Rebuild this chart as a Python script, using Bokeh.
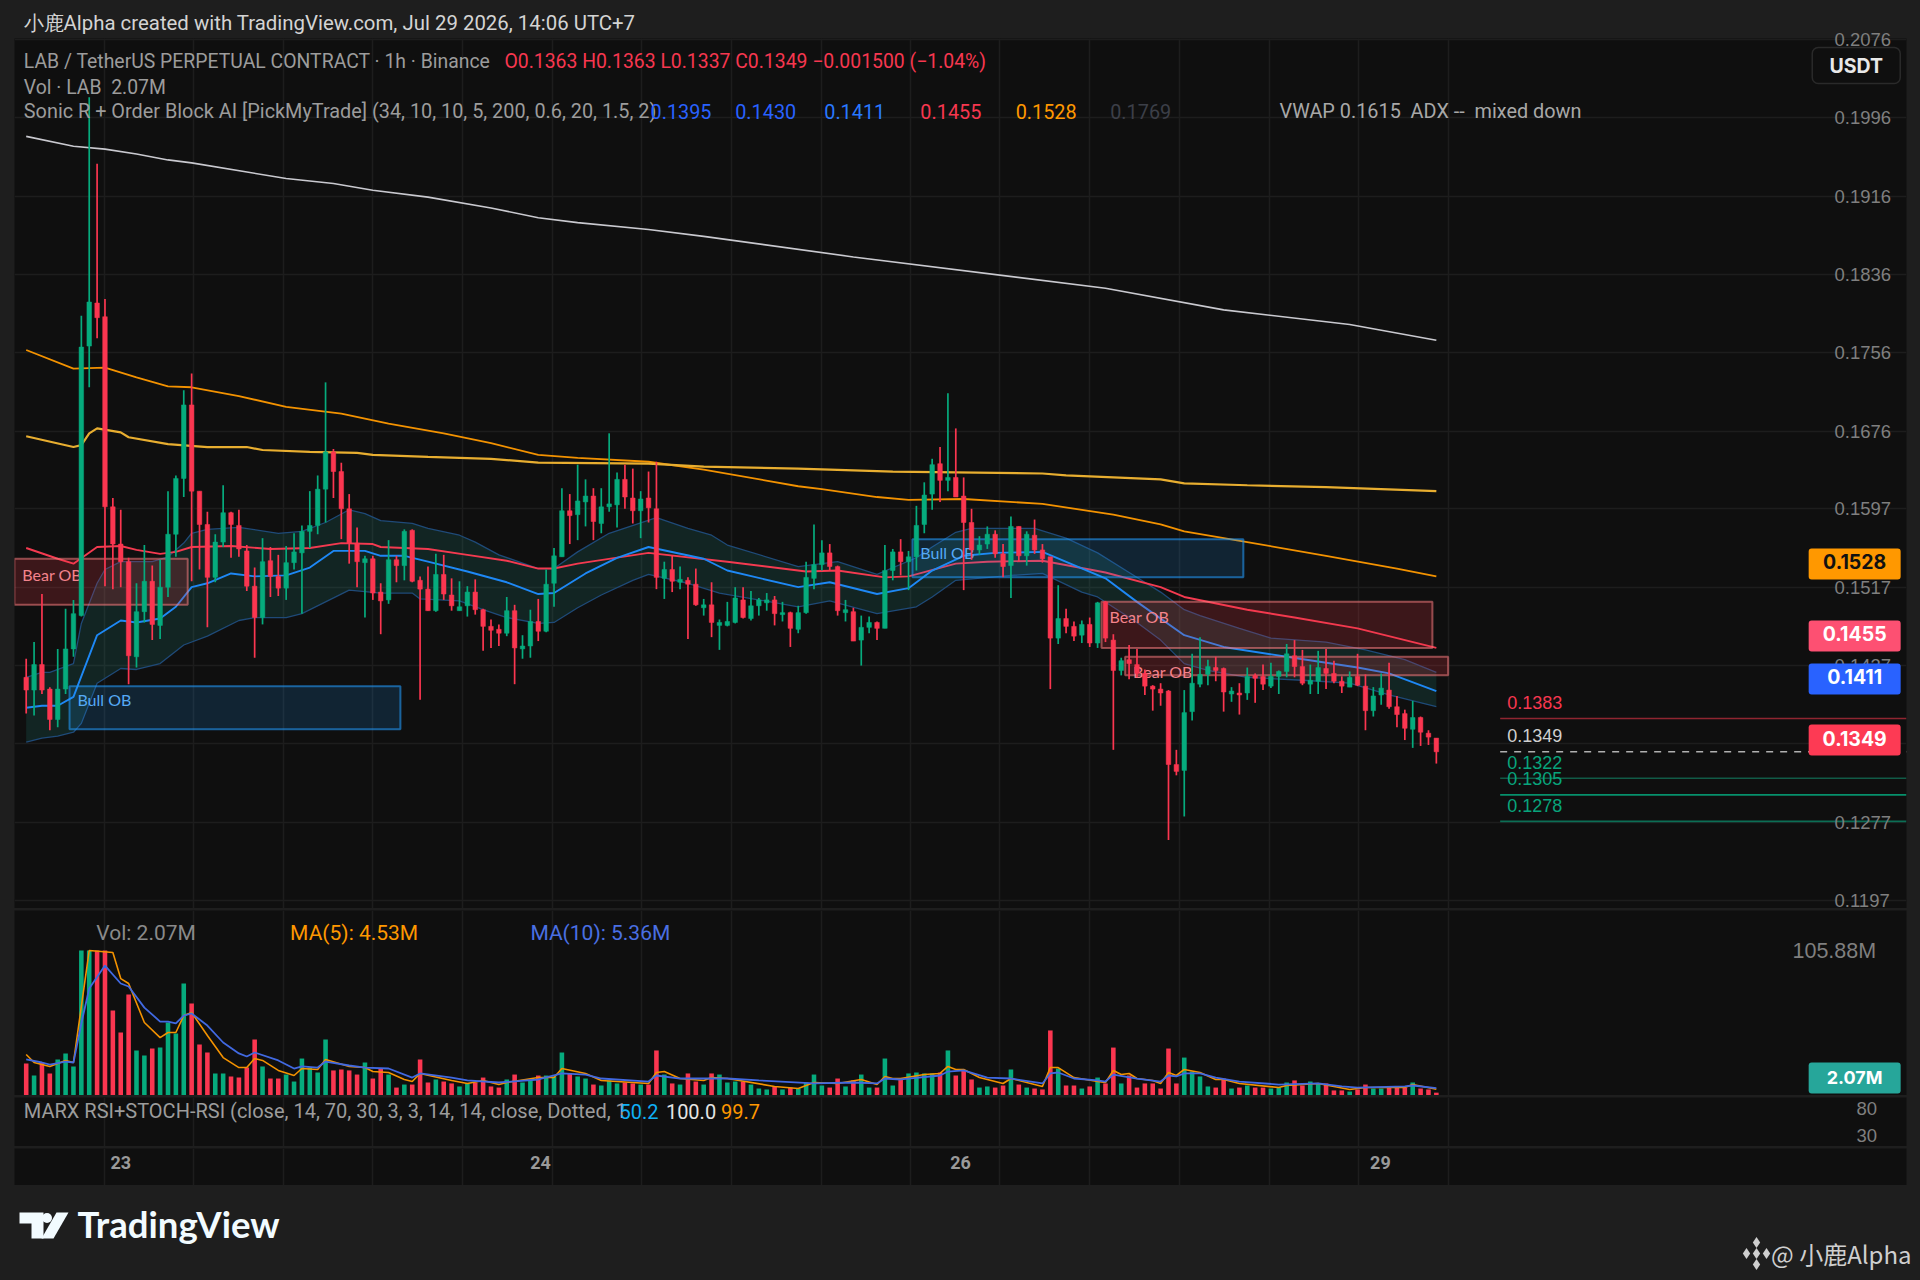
import numpy as np
from bokeh.plotting import figure
from bokeh.layouts import column
from bokeh.models import (Range1d, LinearAxis, FixedTicker, Grid, Label, ColumnDataSource,
                          NumeralTickFormatter, Title)
from bokeh.core.properties import value
from bokeh.embed import file_html
from bokeh.resources import INLINE

# ---- chart values, prices in units of 0.0001 USDT, volumes in millions ----
open_ = [1425,1412,1438,1413,1382,1413,1454,1488,1763,1807,
1793,1599,1561,1543,1446,1492,1523,1478,1517,1571,
1628,1703,1615,1581,1527,1563,1593,1580,1554,1518,
1486,1544,1528,1516,1542,1552,1574,1580,1617,1655,
1635,1597,1562,1542,1546,1512,1504,1545,1539,1575,
1524,1515,1493,1530,1509,1493,1498,1512,1494,1477,
1474,1470,1493,1454,1457,1482,1472,1521,1548,1595,
1591,1604,1610,1582,1599,1601,1627,1608,1595,1608,
1597,1526,1535,1522,1524,1520,1496,1499,1478,1478,
1481,1504,1485,1498,1501,1504,1489,1491,1474,1491,
1526,1540,1552,1538,1491,1492,1463,1476,1481,1475,
1534,1553,1543,1548,1581,1612,1643,1626,1629,1610,
1583,1555,1561,1571,1551,1539,1579,1549,1570,1555,
1548,1465,1485,1477,1468,1479,1460,1502,1463,1432,
1443,1438,1429,1416,1413,1411,1336,1330,1390,1418,
1428,1435,1434,1408,1409,1409,1427,1426,1416,1426,
1431,1447,1436,1418,1421,1434,1429,1421,1415,1426,
1416,1391,1407,1412,1395,1388,1372,1384,1368,1363]
high = [1444,1461,1510,1415,1454,1495,1504,1794,2017,1949,
1811,1608,1596,1547,1521,1560,1539,1545,1615,1631,
1718,1735,1615,1594,1571,1621,1594,1596,1560,1537,
1567,1558,1550,1559,1572,1580,1615,1631,1726,1658,
1644,1612,1578,1549,1549,1521,1565,1549,1576,1576,
1528,1538,1551,1550,1526,1523,1518,1525,1495,1484,
1479,1507,1499,1468,1494,1505,1535,1557,1618,1612,
1642,1627,1618,1618,1674,1634,1642,1638,1615,1635,
1645,1543,1549,1538,1527,1536,1505,1522,1484,1502,
1517,1517,1513,1506,1511,1508,1502,1492,1498,1543,
1581,1565,1561,1539,1504,1496,1488,1487,1482,1560,
1556,1566,1554,1600,1624,1648,1660,1715,1679,1629,
1597,1569,1579,1575,1561,1589,1579,1574,1586,1561,
1548,1519,1495,1482,1483,1486,1502,1503,1469,1445,
1458,1454,1433,1417,1419,1412,1351,1412,1449,1466,
1443,1446,1435,1415,1419,1435,1429,1438,1440,1432,
1459,1463,1453,1438,1452,1454,1442,1426,1431,1449,
1428,1415,1429,1440,1406,1392,1401,1385,1371,1363]
low = [1388,1386,1408,1371,1374,1408,1446,1487,1721,1771,
1518,1515,1517,1418,1435,1481,1463,1464,1507,1548,
1609,1523,1535,1476,1522,1558,1547,1548,1513,1445,
1479,1507,1508,1504,1535,1490,1557,1571,1583,1608,
1566,1541,1517,1486,1504,1469,1500,1522,1524,1522,
1402,1493,1492,1504,1493,1493,1487,1489,1452,1455,
1457,1467,1418,1444,1445,1462,1471,1497,1548,1561,
1565,1579,1565,1572,1594,1578,1597,1582,1567,1583,
1515,1505,1512,1515,1464,1498,1488,1466,1453,1477,
1480,1485,1483,1488,1493,1478,1482,1456,1470,1490,
1515,1534,1534,1488,1482,1462,1437,1470,1463,1475,
1524,1529,1514,1534,1572,1596,1604,1615,1609,1514,
1545,1550,1556,1547,1527,1506,1543,1539,1551,1542,
1413,1459,1470,1462,1460,1456,1455,1461,1351,1427,
1423,1425,1407,1391,1396,1259,1325,1283,1381,1415,
1417,1421,1390,1400,1387,1402,1399,1412,1414,1408,
1425,1425,1417,1408,1408,1413,1419,1409,1415,1416,
1371,1385,1397,1393,1374,1361,1353,1355,1356,1337]
close = [1412,1438,1412,1382,1413,1454,1490,1762,1808,1792,
1599,1561,1543,1447,1492,1523,1479,1517,1571,1628,
1703,1615,1581,1527,1563,1593,1581,1556,1518,1486,
1543,1528,1516,1542,1553,1574,1580,1617,1655,1635,
1597,1562,1543,1546,1511,1503,1545,1539,1574,1523,
1515,1493,1530,1510,1498,1497,1512,1494,1477,1473,
1470,1493,1455,1457,1482,1472,1520,1549,1595,1590,
1605,1610,1584,1599,1602,1627,1609,1595,1607,1598,
1527,1535,1523,1525,1520,1499,1499,1481,1481,1482,
1506,1486,1498,1504,1504,1490,1491,1475,1491,1527,
1540,1552,1538,1493,1494,1462,1476,1481,1475,1534,
1553,1543,1548,1580,1611,1642,1626,1629,1609,1583,
1555,1560,1571,1551,1538,1579,1549,1571,1555,1546,
1465,1485,1477,1467,1479,1460,1501,1465,1432,1442,
1439,1429,1416,1413,1409,1336,1329,1389,1419,1428,
1436,1432,1410,1411,1407,1426,1424,1418,1426,1431,
1449,1436,1419,1422,1435,1429,1421,1416,1425,1417,
1391,1406,1414,1395,1387,1373,1384,1369,1364,1349]
volume = [23.4,14.6,24.1,16.1,26.3,30.7,21.2,105.88,105.88,105.88,
105.88,62.1,46,73.7,32.9,29.2,34.3,35,53.3,45.3,
81.8,67.2,37.2,31.4,16.1,16.1,13.9,13.1,20.4,40.9,
21.2,12.4,12.4,15.3,10.2,27,20.4,16.8,40.9,18.3,
19,18.3,15.3,24.1,12.4,19.7,15.3,5.8,8,8,
26.3,9.5,11.7,10.2,8.8,6.6,8.8,9.5,13.1,6.6,
5.8,11.7,15.3,9.5,11,14.6,14.6,13.9,31.4,16.1,
13.9,12.4,8,7.3,11,8.8,9.5,8.8,8,8,
32.9,15.3,8.8,8,16.1,10.2,8,16.1,15.3,9.5,
10.2,10.2,8,5.1,4.4,6.6,4.4,5.8,5.1,9.5,
15.3,7.3,5.8,12.4,6.6,11,15.3,5.8,5.8,27,
7.3,11.7,16.1,16.8,16.1,16.1,16.8,32.9,14.6,18.3,
11.7,5.8,6.6,5.8,7.3,19,8,5.8,5.1,4.4,
47.5,19.7,7.3,7.3,5.1,6.6,13.1,8.8,35,8.8,
14.6,5.8,8.8,8.8,5.1,34.3,8.8,27.7,17.5,13.9,
6.6,5.8,12.4,5.1,5.8,7.3,5.8,5.8,5.1,5.8,
9.5,11,7.3,10.2,8.8,8.8,3.7,3.7,2.9,4.4,
8,5.1,5.1,5.8,5.8,5.8,9.5,5.1,4.4,2.07]

white_i = [0,6,10,14,18,21,33,39,44,51,59,65,70,79,86,105,137,152,168,179]
white_p = [1977,1967,1964,1959,1953,1950,1934,1929,1922,1915,1904,1894,1889,1882,1875,1854,1822,1800,1785,1769]
orange_i = [0,6,10,14,18,21,27,33,40,46,53,59,65,70,79,86,98,101,108,112,119,129,138,144,147,155,165,174,179]
orange_p = [1759,1740,1741,1731,1722,1721,1712,1701,1694,1684,1674,1664,1652,1649,1645,1637,1620,1617,1609,1606,1607,1602,1591,1581,1574,1563,1549,1536,1528]
yellow_i = [0,6,7,8,9,12,13,18,23,28,30,36,42,44,51,59,65,79,86,98,110,129,132,138,144,147,155,165,179]
yellow_p = [1671,1660,1662,1674,1679,1675,1670,1663,1660,1660,1657,1655,1654,1652,1650,1648,1644,1643,1640,1638,1635,1633,1631,1629,1627,1623,1621,1619,1615]
red_i = [0,4,6,9,12,14,17,19,21,26,31,36,40,44,45,51,56,61,65,67,70,79,89,99,103,109,112,118,122,129,135,137,144,147,155,161,169,179]
red_p = [1557,1546,1541,1558,1559,1555,1551,1553,1558,1559,1556,1557,1562,1561,1558,1556,1550,1544,1536,1536,1541,1552,1543,1533,1534,1527,1528,1541,1543,1544,1535,1532,1517,1507,1494,1486,1475,1455]
blue_i = [0,2,4,6,9,12,14,17,19,21,23,26,29,33,36,39,43,45,48,51,56,61,65,67,71,75,79,86,89,98,102,108,112,115,119,123,129,137,141,147,152,160,169,173,179]
blue_p = [1394,1396,1396,1405,1468,1483,1481,1485,1497,1517,1521,1531,1528,1529,1537,1554,1554,1549,1549,1543,1533,1522,1510,1511,1531,1547,1558,1546,1534,1517,1522,1510,1516,1534,1549,1552,1553,1526,1502,1468,1456,1446,1435,1429,1411]
upper_i = [0,2,3,6,7,9,10,12,16,18,20,21,23,27,32,35,38,41,43,45,49,51,55,57,60,65,67,70,74,80,84,87,89,98,103,108,113,115,118,120,128,132,136,140,144,147,149,154,158,165,170,175,179]
upper_p = [1425,1430,1430,1439,1480,1521,1535,1543,1543,1548,1562,1572,1576,1578,1572,1574,1583,1596,1592,1585,1582,1577,1570,1563,1550,1536,1536,1553,1572,1588,1577,1570,1560,1538,1543,1530,1547,1558,1573,1577,1577,1567,1552,1532,1512,1494,1488,1475,1465,1461,1453,1443,1430]
lower_i = [0,2,4,6,7,9,12,14,17,20,23,27,29,33,35,38,41,45,49,50,55,58,61,65,67,70,73,77,79,84,88,98,102,108,113,115,118,125,129,134,136,141,144,147,150,155,162,168,173,179]
lower_p = [1359,1363,1365,1369,1378,1419,1434,1433,1439,1458,1467,1483,1486,1486,1490,1502,1514,1511,1511,1505,1503,1494,1486,1480,1481,1496,1509,1524,1530,1521,1511,1497,1503,1490,1497,1507,1524,1529,1531,1512,1507,1481,1463,1439,1432,1425,1422,1419,1407,1395]

ma5_i = [0,1,3,5,6,8,11,12,13,15,17,18,19,20,21,23,25,27,28,29,30,32,34,35,37,38,41,43,44,46,48,49,50,54,56,58,60,61,65,67,68,71,73,79,80,81,83,86,87,89,95,98,100,103,106,108,109,110,111,114,116,117,118,119,121,124,125,129,130,131,133,136,137,138,139,140,141,143,144,145,146,147,149,151,152,154,159,160,164,166,168,170,175,176,179]
ma5_v = [29.9,24.1,21.2,25.6,24.1,105.88,104.4,85.4,81.8,53.3,42.3,46,46,58.4,60.6,43.8,27.7,20.4,20.4,27,25.6,18.3,14.6,19.7,19,26.3,21.2,20.4,17.5,16.8,11.7,10.2,16.1,11,8.8,11,8,9.5,13.1,13.1,19.7,16.1,11,8.8,16.8,17.5,12.4,11,13.1,12.4,6.6,5.1,9.5,8.8,11.7,8,13.9,12.4,12.4,15.3,16.1,21.2,19,19,13.1,8.8,12.4,6.6,20.4,20.4,13.1,10.2,9.5,18.3,15.3,16.1,12.4,11,8.8,16.8,14.6,19,16.8,11.7,11.7,8.8,5.8,7.3,8.8,6.6,4.4,5.8,5.8,8,4.53]
ma10_i = [0,2,3,5,6,7,8,10,12,13,15,17,18,19,20,21,23,25,27,28,29,32,34,35,37,38,41,43,46,49,50,54,56,60,65,68,71,73,79,80,83,89,93,100,105,108,109,111,116,117,119,122,125,129,130,131,133,136,137,138,141,144,145,146,147,149,151,154,159,164,167,169,175,176,179]
ma10_v = [26.3,24.1,22.6,24.8,24.1,52.6,78.1,94.9,81.8,79.6,64.2,54,54,52.6,58.4,59.9,51.1,38.7,30.7,28.5,31.4,25.6,19.7,21.2,20.4,24.8,21.9,20.4,19.7,13.1,16.1,13.1,11,9.5,11.7,16.1,15.3,12.4,10.2,14.6,12.4,12.4,11,8.8,9.5,8.8,12.4,11.7,14.6,17.5,18.3,13.1,12.4,8.8,16.1,16.8,12.4,11,10.2,15.3,12.4,10.2,14.6,13.9,16.1,16.1,13.1,10.2,8,8.8,6.6,5.8,6.6,7.3,5.36]

ob_kind = ["Bear OB", "Bull OB", "Bull OB", "Bear OB", "Bear OB"]
ob_left = [-1.5, 5.5, 112.5, 136.5, 139.5]
ob_right = [20.5, 47.5, 154.5, 178.5, 180.5]
ob_top = [1546, 1416, 1566, 1502, 1446]
ob_bottom = [1499, 1372, 1527, 1455, 1427]
ob_label_p = [1529, 1401, 1551, 1486, 1430]

price_ticks = [0.2076,0.1996,0.1916,0.1836,0.1756,0.1676,0.1597,0.1517,0.1437,0.1277,0.1197]
price_grid = [0.2076,0.1996,0.1916,0.1836,0.1756,0.1676,0.1597,0.1517,0.1437,0.1357,0.1277,0.1197]
day_ticks = [12, 65.3, 118.6, 171.9]
day_labels = ["23", "24", "26", "29"]
grid_ticks = [9.9,21.3,32.6,44.0,55.4,66.8,78.1,89.5,100.9,112.3,123.6,135.0,146.4,157.8,169.1,180.5]
level_p = [1383, 1349, 1322, 1305, 1278]
level_col = ["#8f2530", "#b0b0b0", "#115b47", "#06906b", "#0c6e55"]
level_txt = ["#f7374f", "#d0d0d0", "#08a47c", "#08a47c", "#08a47c"]

UP, DOWN = "#06ab7d", "#fb3650"
BG, CHROME, GRID, AXT = "#0f0f0f", "#1e1e1e", "#1d1d1d", "#7f7f7f"
SANS, NUM = "Roboto", "Liberation Sans"

xr = Range1d(-1.485, 238.68)
n = len(open_)
idx = np.arange(n)
O, H, L, C = [np.array(a) / 1e4 for a in (open_, high, low, close)]
cols = [UP if c >= o else DOWN for o, c in zip(O, C)]
src = ColumnDataSource(dict(x=idx, o=O, h=H, l=L, c=C, v=volume, col=cols))


def panel(h, top, lo, hi):
    p = figure(width=1920, height=h, x_range=xr, y_range=Range1d(lo, hi), output_backend="svg",
               toolbar_location=None, min_border_left=14, min_border_right=14, min_border_top=top,
               min_border_bottom=0, background_fill_color=BG, border_fill_color=None,
               outline_line_color=None, x_axis_location=None, y_axis_location=None)
    p.grid.visible = False
    p.add_layout(Grid(dimension=0, ticker=FixedTicker(ticks=grid_ticks), grid_line_color=GRID, grid_line_width=1.5))
    return p


def yaxis(p, ticks, standoff, size, fmt=None, overrides=None):
    ax = LinearAxis(ticker=FixedTicker(ticks=ticks), major_label_standoff=standoff,
                    axis_line_color=None, major_tick_line_color=None, minor_tick_line_color=None,
                    major_label_text_color=AXT, major_label_text_font=NUM,
                    major_label_text_font_size=size)
    if fmt:
        ax.formatter = fmt
    if overrides:
        ax.major_label_overrides = overrides
    p.add_layout(ax, "right")


def note(p, x, y, text, color, size="19.4px", style="normal", font=SANS, align="left"):
    p.add_layout(Label(x=x, y=y, text=text, text_color=color, text_font=font, text_font_size=size,
                       text_font_style=style, text_baseline="middle", text_align=align))


# ---------------- price panel ----------------
price = panel(908, 38, 0.11891, 0.20769)
price.add_layout(Grid(dimension=1, ticker=FixedTicker(ticks=price_grid), grid_line_color=GRID, grid_line_width=1.5))
yaxis(price, price_ticks, -78, "18.5px", NumeralTickFormatter(format="0.0000"))
price.add_layout(Title(text="小鹿Alpha created with TradingView.com, Jul 29 2026, 14:06 UTC+7", text_color="#d4d4d4",
                       text_font=SANS, text_font_size="20.4px", text_font_style="normal", align="left",
                       offset=9, standoff=7), "above")

price.patch(upper_i + lower_i[::-1], [v / 1e4 for v in upper_p + lower_p[::-1]],
            fill_color="#26a69a", fill_alpha=0.15, line_color=None)
price.line(upper_i, [v / 1e4 for v in upper_p], line_color="#1f4a78", line_width=1.3)
price.line(lower_i, [v / 1e4 for v in lower_p], line_color="#1f4a78", line_width=1.3)
price.line(white_i, [v / 1e4 for v in white_p], line_color="#c9c9cf", line_width=1.6)
price.line(orange_i, [v / 1e4 for v in orange_p], line_color="#f39200", line_width=1.8)
price.line(yellow_i, [v / 1e4 for v in yellow_p], line_color="#e8ae30", line_width=2.2)
price.line(red_i, [v / 1e4 for v in red_p], line_color="#f43a50", line_width=1.9)
price.line(blue_i, [v / 1e4 for v in blue_p], line_color="#1e88f5", line_width=1.9)

for kind, l, r, t, b, lp in zip(ob_kind, ob_left, ob_right, ob_top, ob_bottom, ob_label_p):
    bear = kind.startswith("Bear")
    price.quad(left=l, right=r, top=t / 1e4, bottom=b / 1e4,
               fill_color="#f23645" if bear else "#2196f3", fill_alpha=0.2 if bear else 0.16,
               line_color="#f77c80" if bear else "#2196f3", line_alpha=0.55 if bear else 0.6, line_width=2)
    price.text(x=l + 1.0, y=lp / 1e4, text=[kind], text_color="#f4838c" if bear else "#55a9f5", y_offset=-1,
               text_font=value("Lato"), text_font_size="16px", text_baseline="middle")

price.segment(x0="x", x1="x", y0="l", y1="h", color="col", line_width=1.7, source=src)
price.vbar(x="x", width=0.58, top="o", bottom="c", fill_color="col", line_color="col", line_width=0.5, source=src)

for lv, lc, tc in zip(level_p, level_col, level_txt):
    price.segment(x0=[187.1], x1=[238.68], y0=[lv / 1e4], y1=[lv / 1e4], line_color=lc, line_width=1.6,
                  line_dash="7 7" if lv == 1349 else "solid")
    price.text(x=[188.0], y=[lv / 1e4], text=[f"{lv / 1e4:.4f}"], text_color=tc, y_offset=-16,
               text_font=value(NUM), text_font_size="18px", text_baseline="middle")

tag_val = ["0.1528", "0.1455", "0.1411", "0.1349"]
tag_centre = [0.15407, 0.14672, 0.14233, 0.1361]
tag_fill = ["#ff9800", "#fd5072", "#2962ff", "#fd3a54"]
tag_text = ["#111111", "#ffffff", "#ffffff", "#ffffff"]
price.rect(x=[232.1] * 4, y=tag_centre, width=92, height=31, width_units="screen", height_units="screen",
           fill_color=tag_fill, line_color=None, level="overlay", border_radius=3)
price.text(x=[232.1] * 4, y=tag_centre, text=tag_val, text_color=tag_text, y_offset=-2, text_align="center",
           text_baseline="middle", text_font=value("Inter"), text_font_style="bold", text_font_size="19.5px", level="overlay")
price.rect(x=[232.3], y=[0.20493], width=88, height=36, width_units="screen", height_units="screen",
           fill_color=BG, line_color="#2a2a2a", line_width=1.5, level="overlay", border_radius=6)
price.text(x=[232.3], y=[0.20493], text=["USDT"], text_color="#e8e8e8", text_align="center", text_baseline="middle",
           text_font=value("Inter"), text_font_style="bold", text_font_size="19.5px", level="overlay")

note(price, -0.3, 0.20534, "LAB / TetherUS PERPETUAL CONTRACT · 1h · Binance", "#9c9c9c")
note(price, 60.7, 0.20534, "O0.1363 H0.1363 L0.1337 C0.1349 −0.001500 (−1.04%)", "#f7374f")
note(price, -0.3, 0.20269, "Vol · LAB\u00a0 2.07M", "#9c9c9c")
note(price, -0.3, 0.20024, "Sonic R + Order Block AI [PickMyTrade] (34, 10, 10, 5, 200, 0.6, 20, 1.5, 2)", "#9c9c9c", "19.85px")
for xi, t, c in [(79.25, "0.1395", "#2962ff"), (90.0, "0.1430", "#2962ff"), (101.3, "0.1411", "#2979ff"),
                 (113.5, "0.1455", "#f7374f"), (125.6, "0.1528", "#ff9800"), (137.6, "0.1769", "#3c3f48"),
                 (159.1, "VWAP 0.1615\u00a0 ADX --\u00a0 mixed down", "#a8a8a8")]:
    note(price, xi, 0.20024, t, c, "19.85px")

# ---------------- volume panel ----------------
vol = panel(187, 2, 0, 135.1)
yaxis(vol, [105.88], -120, "21.5px", overrides={105.88: "105.88M"})
vol.vbar(x="x", width=0.58, top="v", bottom=0, fill_color="col", line_color=None, source=src)
vol.line(ma5_i, ma5_v, line_color="#f39200", line_width=1.6)
vol.line(ma10_i, ma10_v, line_color="#4169e1", line_width=1.8)
vol.rect(x=[232.1], y=[12.8], width=92, height=31, width_units="screen", height_units="screen",
         fill_color="#26a69a", line_color=None, level="overlay", border_radius=3)
vol.text(x=[232.1], y=[12.8], text=["2.07M"], text_color="#ffffff", text_align="center", text_baseline="middle",
         text_font=value("Inter"), text_font_style="bold", text_font_size="18px", level="overlay")
note(vol, 8.9, 118.6, "Vol: 2.07M", "#8a8a8a", "21px")
note(vol, 33.5, 118.6, "MA(5): 4.53M", "#ff9800", "21px")
note(vol, 64.0, 118.6, "MA(10): 5.36M", "#4a6fe3", "21px")

# ---------------- RSI panel ----------------
rsi = panel(51, 2, 8, 102)
yaxis(rsi, [80, 30], -56, "18.5px")
note(rsi, -0.3, 75.5, "MARX RSI+STOCH-RSI (close, 14, 70, 30, 3, 3, 14, 14, close, Dotted, 1", "#9c9c9c", "20px")
note(rsi, 75.3, 75.5, "50.2", "#10b0f5", "20px")
note(rsi, 81.2, 75.5, "100.0", "#e4e4e4", "20px")
note(rsi, 88.2, 75.5, "99.7", "#ff9800", "20px")

# ---------------- time axis ----------------
tm = panel(39, 2, 0, 1)
xax = LinearAxis(ticker=FixedTicker(ticks=day_ticks), major_label_standoff=-36,
                 major_label_overrides=dict(zip(day_ticks, day_labels)), axis_line_color=None,
                 major_tick_line_color=None, minor_tick_line_color=None, major_label_text_color="#9a9a9a",
                 major_label_text_font=SANS, major_label_text_font_style="bold", major_label_text_font_size="18px")
tm.add_layout(xax, "below")

# ---------------- footer ----------------
foot = figure(width=1920, height=95, x_range=Range1d(0, 1920), y_range=Range1d(1280, 1185), output_backend="svg",
              toolbar_location=None, min_border_left=0, min_border_right=0, min_border_top=0, min_border_bottom=0,
              background_fill_color=None, border_fill_color=None,
              outline_line_color=None, x_axis_location=None, y_axis_location=None)
foot.grid.visible = False
foot.patch([19, 43, 43, 31, 31, 19], [1212, 1212, 1238, 1238, 1223, 1223], fill_color="#f2fbff", line_color=None)
foot.scatter([46.5], [1217.5], size=10, marker="circle", fill_color="#f2fbff", line_color=None)
foot.patch([56, 68, 53, 41], [1212, 1212, 1238, 1238], fill_color="#f2fbff", line_color=None)
note(foot, 77, 1223, "TradingView", "#f2fbff", "36.6px", "bold", "Lato")
foot.scatter([1756, 1746, 1766, 1756, 1756], [1242, 1253, 1253, 1264, 1253], size=11, marker="diamond",
             fill_color="#cfcfcf", line_color=None)
note(foot, 1911, 1253, "@ 小鹿Alpha", "#cfcfcf", "24px", font="Noto Sans CJK SC", align="right")

page = column(column(price, vol, rsi, tm, spacing=0), foot, spacing=0)
html = file_html(page, INLINE)
at = html.rfind("<body>")
html = html[:at] + '<body style="background:#1e1e1e;margin:0;overflow:hidden">' + html[at + len("<body>"):]
open("out.html", "w").write(html)
